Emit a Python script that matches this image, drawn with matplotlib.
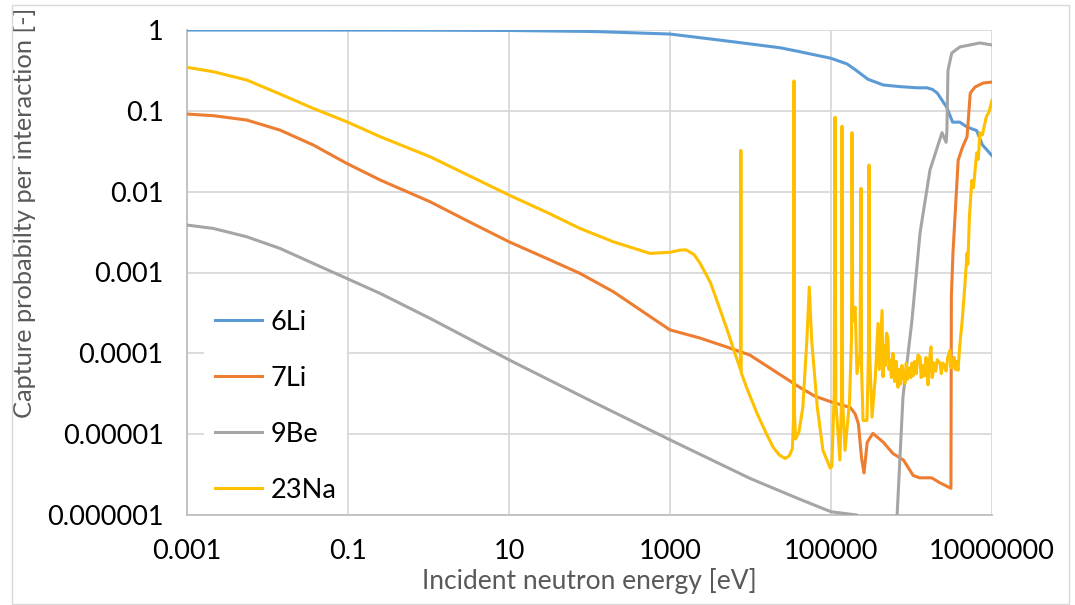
import matplotlib
matplotlib.use("Agg")
import matplotlib.pyplot as plt
import matplotlib.patches as patches
import numpy as np

plt.rcParams['font.family'] = ['Lato', 'DejaVu Sans']

# values, as log10(energy [eV]) and log10(probability)
li6_logE = [-3.0, -1.0, 0.0, 1.0, 2.0, 2.13, 3.0, 3.78, 4.37, 4.61, 5.0, 5.2, 5.3, 5.46, 5.65, 5.85,
            6.07, 6.19, 6.26, 6.32, 6.44, 6.51, 6.6, 6.69, 6.81, 6.88, 7.0]
li6_logP = [-0.0005, -0.001, -0.002, -0.006, -0.018, -0.021, -0.05, -0.145, -0.22, -0.268, -0.35, -0.42,
            -0.49, -0.61, -0.68, -0.70, -0.715, -0.715, -0.735, -0.78, -0.96, -1.14, -1.14, -1.2,
            -1.245, -1.42, -1.555]

li7_logE = [-3.0, -2.673, -2.258, -1.845, -1.431, -1.016, -0.60, 0.02, 0.5, 1.0, 1.5, 1.88, 2.3, 2.79,
            3.0, 3.37, 3.7, 3.99, 4.3, 4.61, 4.8, 5.0, 5.24, 5.3, 5.34, 5.38, 5.41, 5.45, 5.52, 5.65,
            5.77, 5.9, 6.02, 6.1, 6.25, 6.35, 6.49, 6.495, 6.515, 6.58, 6.63, 6.69, 6.73, 6.79,
            6.89, 7.0]
li7_logP = [-1.04, -1.06, -1.114, -1.238, -1.423, -1.65, -1.856, -2.125, -2.37, -2.62, -2.84, -3.01,
            -3.24, -3.57, -3.71, -3.81, -3.92, -4.02, -4.22, -4.42, -4.53, -4.6, -4.67, -4.75, -4.87,
            -5.3, -5.48, -5.1, -4.99, -5.1, -5.24, -5.32, -5.51, -5.54, -5.54, -5.6, -5.67,
            -3.30, -2.76, -1.61, -1.46, -1.32, -0.78, -0.705, -0.656, -0.644]

be9_logE = [-3.0, -2.673, -2.258, -1.845, -1.431, -1.016, -0.60, 0.02, 1.0, 2.0, 3.0, 4.0, 4.6, 5.0,
            5.32, 5.5, 5.7, 5.78, 5.82, 5.894, 6.006, 6.106, 6.23, 6.379, 6.43, 6.44, 6.453, 6.5,
            6.6, 6.85, 7.0]
be9_logP = [-2.413, -2.455, -2.558, -2.702, -2.888, -3.073, -3.259, -3.568, -4.08, -4.58, -5.07, -5.55,
            -5.8, -5.96, -6.0, -6.15, -6.3, -6.3, -6.03, -4.54, -3.59, -2.51, -1.73, -1.27, -1.39,
            -1.24, -0.50, -0.285, -0.21, -0.16, -0.185]

na23_logE = [-3.0, -2.673, -2.258, -1.845, -1.431, -1.016, -0.60, 0.02, 0.5, 1.0, 1.5, 1.882, 2.296,
             2.752, 3.0, 3.124, 3.2, 3.3, 3.37, 3.5, 3.58, 3.7, 3.8, 3.875, 3.88, 3.885, 3.95, 4.08,
             4.2, 4.28, 4.36, 4.43, 4.48, 4.52, 4.535, 4.54, 4.545, 4.56, 4.6, 4.65, 4.70, 4.73,
             4.76, 4.83, 4.90, 4.99, 5.01, 5.04, 5.05, 5.06, 5.11, 5.13, 5.137, 5.145, 5.174, 5.23,
             5.255, 5.261, 5.27, 5.30, 5.323, 5.36, 5.373, 5.38, 5.398, 5.447, 5.465, 5.472, 5.48,
             5.51, 5.55, 5.584, 5.60, 5.634, 5.646, 5.66, 5.675, 5.69, 5.708, 5.72, 5.733, 5.75,
             5.77, 5.79, 5.81, 5.832, 5.85, 5.865, 5.882, 5.90, 5.919, 5.935, 5.95, 5.97, 5.99,
             6.006, 6.02, 6.04, 6.06, 6.08, 6.106, 6.12, 6.14, 6.16, 6.18, 6.205, 6.22, 6.242,
             6.255, 6.267, 6.28, 6.30, 6.32, 6.354, 6.37, 6.39, 6.416, 6.43, 6.45, 6.478, 6.49,
             6.505, 6.516, 6.53, 6.545, 6.56, 6.578, 6.60, 6.63, 6.66, 6.69, 6.70, 6.72, 6.75, 6.77,
             6.81, 6.83, 6.85, 6.88, 6.93, 6.96, 7.0]
na23_logP = [-0.462, -0.516, -0.619, -0.792, -0.97, -1.135, -1.32, -1.568, -1.80, -2.042, -2.27, -2.455,
             -2.62, -2.764, -2.75, -2.723, -2.72, -2.78, -2.88, -3.12, -3.34, -3.68, -3.98, -4.2,
             -1.49, -4.24, -4.42, -4.74, -5.0, -5.16, -5.26, -5.30, -5.27, -5.18, -4.8, -0.63, -4.7,
             -5.06, -4.98, -4.67, -3.84, -3.18, -3.84, -4.67, -5.2, -5.42, -5.40, -4.5, -1.08,
             -4.6, -5.32, -4.6, -1.19, -4.6, -5.2, -4.6, -3.8, -1.27, -3.6, -3.43, -4.25, -4.0,
             -1.96, -4.2, -4.83, -4.83, -4.0, -1.67, -4.0, -4.79, -4.3, -3.63, -4.2, -3.47, -4.29,
             -3.9, -4.15, -3.75, -3.81, -4.2, -4.08, -4.3, -4.0, -4.35, -4.1, -4.42, -4.2, -4.38,
             -4.15, -4.3, -4.37, -4.12, -4.32, -4.18, -4.3, -4.12, -4.28, -4.1, -4.25, -4.02,
             -4.05, -4.3, -4.15, -4.28, -4.05, -4.39, -4.1, -3.92, -4.3, -4.25, -4.12, -4.22,
             -4.08, -4.12, -4.25, -4.12, -4.17, -4.22, -4.05, -3.96, -4.18, -4.1, -4.17, -4.05,
             -4.2, -4.1, -4.21, -3.9, -3.59, -3.2, -2.76, -2.9, -2.3, -1.86, -1.95, -1.52, -1.6,
             -1.27, -1.3, -1.07, -1.02, -0.87]

series_names = ['6Li', '7Li', '9Be', '23Na']
series_colors = ['#5b9bd5', '#ed7d31', '#a5a5a5', '#ffc000']

xticks = [0.001, 0.1, 10, 1000, 100000, 10000000]
xtick_labels = ['0.001', '0.1', '10', '1000', '100000', '10000000']
yticks = [1e-6, 1e-5, 1e-4, 1e-3, 1e-2, 1e-1, 1]
ytick_labels = ['0.000001', '0.00001', '0.0001', '0.001', '0.01', '0.1', '1']

fig = plt.figure(figsize=(10.75, 6.05), dpi=100)
ax = fig.add_axes([187 / 1075, 1 - 515 / 605, 805 / 1075, 485 / 605])

data = [(li6_logE, li6_logP), (li7_logE, li7_logP), (be9_logE, be9_logP), (na23_logE, na23_logP)]
for (le, lp), name, col in zip(data, series_names, series_colors):
    ax.plot(10 ** np.array(le), 10 ** np.array(lp), color=col, lw=2.2, label=name,
            solid_joinstyle='round', zorder=3)

ax.set_xscale('log')
ax.set_yscale('log')
ax.set_xlim(1e-3, 1e7)
ax.set_ylim(1e-6, 1)
ax.set_xticks(xticks)
ax.set_xticklabels(xtick_labels)
ax.set_yticks(yticks)
ax.set_yticklabels(ytick_labels)
ax.minorticks_off()
ax.tick_params(length=0, labelsize=19.5, pad=17, labelcolor='black')
ax.grid(color='#d9d9d9', lw=1.3)
ax.set_axisbelow(True)
for s in ['top', 'right']:
    ax.spines[s].set_visible(False)
for s in ['left', 'bottom']:
    ax.spines[s].set_color('#bfbfbf')
    ax.spines[s].set_linewidth(1.3)

ax.set_xlabel('Incident neutron energy [eV]', fontsize=19, color='#595959', labelpad=3)
ax.set_ylabel('Capture probabilty per interaction [-]', fontsize=18.3, color='#595959')
ax.yaxis.set_label_coords(-0.187, 0.622)

leg = ax.legend(loc='upper left', bbox_to_anchor=(0.021, 0.446), fontsize=19.5,
                frameon=True, fancybox=False, edgecolor='none', facecolor='white',
                framealpha=1, handlelength=1.75, handletextpad=0.3, labelspacing=1.15,
                borderaxespad=0, borderpad=0.4)
leg.set_zorder(5)

fig.patches.append(patches.Rectangle((12 / 1075, 1 / 605), 1057 / 1075, 599 / 605,
                                     transform=fig.transFigure, fill=False,
                                     edgecolor='#d9d9d9', lw=1))

fig.savefig('out.png', dpi=100)
